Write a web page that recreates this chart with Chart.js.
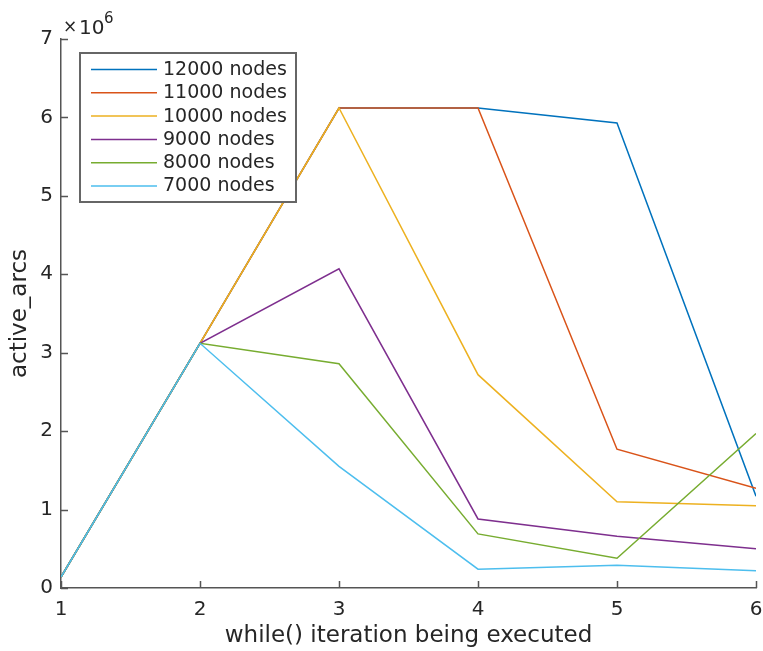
<!DOCTYPE html>
<html>
<head>
<meta charset="utf-8">
<script src="https://cdn.jsdelivr.net/npm/chart.js@4"></script>
<style>
  html, body { margin:0; padding:0; background:#fff; }
  #wrap { width:763px; height:651px; }
</style>
</head>
<body>
<div id="wrap"><canvas id="grafico" width="763" height="651"></canvas></div>
<script>
// iteration number on the x axis, active arcs (in millions) per run size
const iteracoes = [1, 2, 3, 4, 5, 6];
const rotulos = ["12000 nodes", "11000 nodes", "10000 nodes", "9000 nodes", "8000 nodes", "7000 nodes"];
const nos12000 = [0.14, 3.12, 6.12, 6.12, 5.93, 1.17];
const nos11000 = [0.14, 3.12, 6.12, 6.12, 1.77, 1.27];
const nos10000 = [0.14, 3.12, 6.12, 2.72, 1.10, 1.05];
const nos9000  = [0.14, 3.12, 4.07, 0.88, 0.66, 0.50];
const nos8000  = [0.14, 3.12, 2.86, 0.69, 0.38, 1.97];
const nos7000  = [0.14, 3.12, 1.55, 0.24, 0.29, 0.22];
const yTicks = [0, 1, 2, 3, 4, 5, 6, 7];
const cores = ["#0072BD", "#D95319", "#EDB120", "#7E2F8E", "#77AC30", "#4DBEEE"];

const series = [nos12000, nos11000, nos10000, nos9000, nos8000, nos7000];
const FONTE = "'DejaVu Sans', sans-serif";
const EIXO = "#555";
const TEXTO = "#262626";

// inward ticks, the x10^6 exponent and the boxed legend, drawn on the canvas
const extras = {
  id: "extras",
  afterDatasetsDraw(chart){
    const { ctx, chartArea: a, scales } = chart;
    ctx.save();
    ctx.strokeStyle = EIXO;
    ctx.lineWidth = 1.5;
    ctx.beginPath();
    scales.x.ticks.forEach(t => {
      const px = Math.round(scales.x.getPixelForValue(t.value)) + 0.5;
      ctx.moveTo(px, a.bottom); ctx.lineTo(px, a.bottom - 7);
    });
    scales.y.ticks.forEach(t => {
      const py = Math.round(scales.y.getPixelForValue(t.value)) + 0.5;
      ctx.moveTo(a.left, py); ctx.lineTo(a.left + 7, py);
    });
    ctx.stroke();

    // exponent
    ctx.fillStyle = TEXTO;
    ctx.textBaseline = "alphabetic";
    ctx.textAlign = "left";
    ctx.font = "17px " + FONTE;
    ctx.fillText("\u00d7", a.left + 2, a.top - 7);
    ctx.font = "20px " + FONTE;
    ctx.fillText("10", a.left + 18, a.top - 5);
    ctx.font = "15px " + FONTE;
    ctx.fillText("6", a.left + 43, a.top - 16);

    // legend
    const lx = 80, ly = 53, lw = 216, lh = 149;
    ctx.fillStyle = "#fff";
    ctx.fillRect(lx, ly, lw, lh);
    ctx.strokeStyle = "#666";
    ctx.lineWidth = 2;
    ctx.strokeRect(lx, ly, lw, lh);
    ctx.font = "19px " + FONTE;
    ctx.textBaseline = "middle";
    chart.data.datasets.forEach((ds, i) => {
      const cy = ly + 16 + i * 23.3;
      ctx.strokeStyle = ds.borderColor;
      ctx.lineWidth = 1.5;
      ctx.beginPath();
      ctx.moveTo(lx + 11, cy + 0.5); ctx.lineTo(lx + 77, cy + 0.5);
      ctx.stroke();
      ctx.fillStyle = TEXTO;
      ctx.fillText(ds.label, lx + 83, cy + 1);
    });
    ctx.restore();
  }
};

new Chart(document.getElementById("grafico"), {
  type: "line",
  data: {
    datasets: series.map((valores, i) => ({
      label: rotulos[i],
      data: iteracoes.map((x, j) => ({ x, y: valores[j] })),
      borderColor: cores[i],
      borderWidth: 1.5,
      pointRadius: 0,
      tension: 0,
      fill: false,
      order: series.length - i   // later series end up on top
    }))
  },
  options: {
    responsive: false,
    animation: false,
    layout: { padding: { top: 39, right: 7, left: 0, bottom: 0 } },
    plugins: { legend: { display: false }, tooltip: { enabled: false } },
    scales: {
      x: {
        type: "linear", min: 1, max: 6,
        afterBuildTicks: s => { s.ticks = iteracoes.map(v => ({ value: v })); },
        afterFit: s => { s.height = 63; s.paddingLeft = 0; s.paddingRight = 0; },
        grid: { display: false, drawTicks: false },
        border: { color: EIXO, width: 1.5 },
        ticks: { color: TEXTO, font: { family: FONTE, size: 20 }, padding: 10, maxRotation: 0 },
        title: { display: true, text: "while() iteration being executed", color: TEXTO, font: { family: FONTE, size: 23 }, padding: { top: 0, bottom: 1 } }
      },
      y: {
        type: "linear", min: 0, max: 7,
        afterBuildTicks: s => { s.ticks = yTicks.map(v => ({ value: v })); },
        afterFit: s => { s.width = 61; s.paddingTop = 0; s.paddingBottom = 0; },
        grid: { display: false, drawTicks: false },
        border: { color: EIXO, width: 1.5 },
        ticks: { color: TEXTO, font: { family: FONTE, size: 20 }, padding: 8 },
        title: { display: true, text: "active_arcs", color: TEXTO, font: { family: FONTE, size: 23 }, padding: { top: 6, bottom: 0 } }
      }
    }
  },
  plugins: [extras]
});
</script>
</body>
</html>
